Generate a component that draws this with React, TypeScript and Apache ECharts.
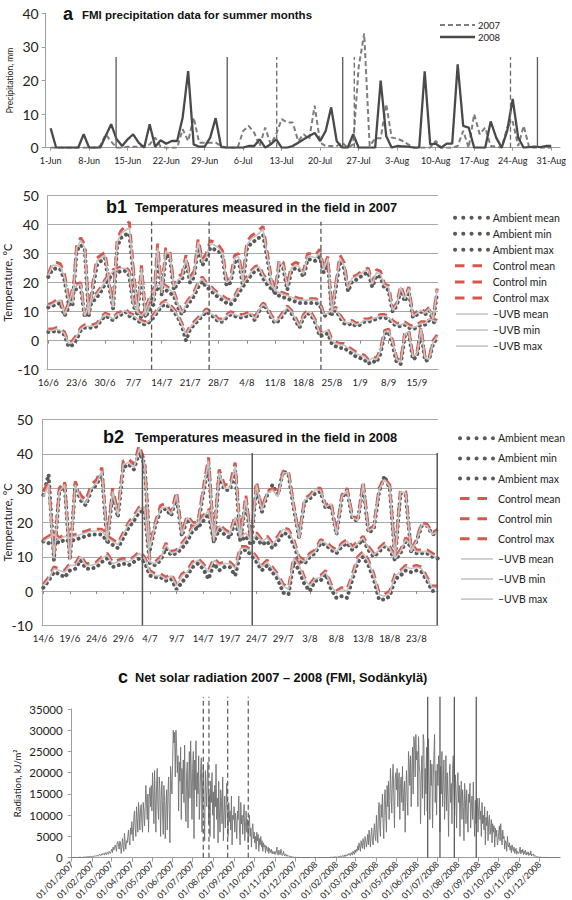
import React, { useEffect, useRef } from 'react';
import * as echarts from 'echarts';

const FONT = 'Lato, "Open Sans", sans-serif';
const TFONT = '"Liberation Sans", Arial, sans-serif';

// ---------- Panel a: precipitation (1 Jun .. 31 Aug, daily) ----------
const precipLabels = ['1-Jun', '8-Jun', '15-Jun', '22-Jun', '29-Jun', '6-Jul', '13-Jul', '20-Jul', '27-Jul', '3-Aug', '10-Aug', '17-Aug', '24-Aug', '31-Aug'];
const precip2007 = [
  0, 0, 0, 0, 0, 0, 0, 0, 0, 0.5,
  4, 1.8, 0, 0, 0.3, 0.3, 0.3, 0.5, 1, 3,
  0.3, 0, 0, 0, 5.5, 2, 9, 1.5, 1.5, 1.5,
  1.5, 0.5, 0, 0, 0, 5, 6.5, 4.5, 0.5, 6,
  1, 4, 8.5, 7.5, 7.5, 2, 4, 2.5, 12.5, 1.5,
  0.5, 0.5, 0.5, 1.5, 0, 1, 24, 34, 0.5, 2.8,
  2.8, 13, 3, 2.7, 2, 1, 0, 0, 0, 0,
  2, 0, 0, 0, 0.5, 5, 0, 10, 4, 6,
  0.5, 0.3, 0, 6, 7.8, 0.5, 6.5, 0, 0, 0,
  0, 0,
];
const precip2008 = [
  5.8, 0, 0, 0, 0, 0, 4, 0, 0, 0,
  3.5, 7, 2.5, 0.5, 2.5, 4, 1.5, 0, 7, 0.3,
  2.2, 1.2, 2, 2, 9, 22.8, 1, 0.3, 0.3, 3,
  8.8, 0.2, 0, 0, 0, 0, 0.5, 0.5, 2.5, 0,
  1, 2.5, 0, 0, 0.5, 1.5, 2.5, 3.5, 4.4, 2,
  5, 12, 2, 0, 0, 4, 0, 0, 0, 0,
  20, 3.5, 0, 0.5, 0.4, 0.3, 0, 0, 22.7, 1,
  1.2, 0, 1.2, 1.2, 24.8, 6.5, 6, 0, 0, 0,
  7.8, 3, 0, 5, 14.5, 3, 0, 0.2, 0.3, 0.2,
  0.5, 0.5,
];
// sampling dates (day index from 1 Jun)
const sampleDays2007A = [41.1, 55.2, 83.6];
const sampleDays2008A = [11.9, 32.1, 53.1, 88.5];
const sampleTopA = 27;

// ---------- Panel b1: temperatures 2007 (16/6 .. 20/9) ----------
const b1Labels = ['16/6', '23/6', '30/6', '7/7', '14/7', '21/7', '28/7', '4/8', '11/8', '18/8', '25/8', '1/9', '8/9', '15/9'];
const ambMax07 = [22, 24.5, 25, 24.5, 21, 13, 12.5, 31, 33, 31.5, 8.5, 18, 26, 27.5, 28.5, 19, 11, 32.5, 35.5, 36.5, 37, 23, 9, 24, 8, 11, 12.5, 30.5, 15.5, 29.5, 29, 17.5, 20, 21, 27.5, 20, 22, 33, 26, 28, 32, 31.5, 31, 29, 19, 20, 27, 28, 19, 31.5, 33.5, 34.5, 35.5, 36.5, 29, 20, 16, 26, 25, 17.5, 24, 25, 24.5, 22, 28, 28, 27.5, 29, 23.5, 27.5, 9, 18.5, 27.5, 25, 17, 20.5, 21, 22, 23, 23.5, 18.5, 22.5, 22, 18, 17.5, 10, 12, 17.5, 13.5, 17, 8, 9, 10, 9, 10.5, 7, 16.5];
const ambMean07 = [11.5, 12, 12.5, 13, 8.5, 11.5, 16.5, 18, 18.5, 8, 11.5, 13.5, 15, 17, 19.5, 21.5, 23, 23.5, 24, 24, 22.5, 12, 9.5, 8, 10, 13.5, 16.5, 18, 18.5, 17.5, 16.5, 15.5, 11.5, 9, 11.5, 13.5, 15.5, 18.5, 20.5, 18.5, 17.5, 16, 15, 14, 13, 12.5, 14, 16.5, 18.5, 20.5, 22.5, 24, 24.5, 21.5, 19.5, 18, 16.5, 15.5, 15, 14.5, 14, 13.5, 13, 13, 13, 13, 13, 12.5, 8.5, 9, 10, 10.5, 8, 6, 5.5, 6, 5, 5.5, 6.5, 6.5, 7, 7.5, 8, 8, 7.5, 6, 5, 5, 5.5, 4.5, 4, 4.5, 5.5, 5.5, 7, 6.5, 6];
const ambMin07 = [3, 3, 3.5, 3, 2, -2, -1.5, 0.5, 3.5, 4.5, 4.5, 4.5, 5, 7, 8.5, 8, 7, 8.5, 9, 10, 8.5, 8, 7, 6, 5.5, 6.5, 8, 10, 12, 12.5, 11.5, 10, 8, 5, 0, 4, 5.5, 7, 8.5, 10, 9, 8, 6.5, 6.5, 8, 9, 8.5, 8, 8, 8.5, 9, 7, 10, 12.5, 11, 8, 6, 7, 9, 11, 9.5, 7, 4.5, 8, 9.5, 8.5, 6, 1.5, 2, 2.5, -1, -2, -2.5, -2.5, -3.5, -4.5, -5.5, -6, -6.5, -8, -7, -7.5, -4.5, 2.5, 3, -1.5, -7.5, -8, 1.5, 2.5, -6.5, -5.5, 3.5, -7, -6.5, -1, 1];
const ctlMax07 = [23, 26.5, 27, 26.5, 23, 15, 14, 33, 35.5, 33, 9.5, 20, 28.5, 29.5, 30.5, 21, 12, 35, 38, 39.5, 41, 25, 10, 26, 9, 12.5, 14, 33.5, 17, 32, 31, 19, 22, 23, 29.5, 22, 24, 35, 28, 30, 34.5, 34, 33, 31, 21, 22, 29.5, 30, 21, 34, 36, 37, 38, 39.5, 31, 22, 17.5, 28, 27, 19, 26, 27, 26.5, 24, 30, 30, 29.5, 31.5, 25, 29, 10, 20, 29.5, 27, 18.5, 22, 22.5, 23.5, 24.5, 25, 20, 24.5, 24, 19.5, 19, 11, 13, 19, 15, 18.5, 9, 10, 11, 10, 11.5, 8, 18];
const ctlMean07 = [12.5, 13, 14, 14.5, 9.5, 13, 18, 19.5, 20, 9, 13, 15, 16.5, 18.5, 21, 23, 24.5, 25, 25.5, 25.5, 24, 13, 10.5, 9, 11, 15, 18, 19.5, 20, 19, 18, 17, 13, 10, 13, 15, 17, 20, 22, 20, 19, 17.5, 16.5, 15.5, 14.5, 14, 15.5, 18, 20, 22, 24, 25.5, 26, 23, 21, 19.5, 18, 17, 16.5, 16, 15.5, 15, 14.5, 14.5, 14.5, 14.5, 14.5, 13.5, 9.5, 10, 11, 11.5, 9, 7, 6.5, 7, 6, 6.5, 7.5, 7.5, 8, 8.5, 9, 9, 8.5, 7, 6, 6, 6.5, 5.5, 5, 5.5, 6.5, 6.5, 8, 7.5, 7];
const ctlMin07 = [4, 4, 4.5, 4, 3, -0.5, 0, 2, 4.5, 5.5, 5.5, 5.5, 6, 8, 9.5, 9, 8, 9.5, 10, 11, 9.5, 9, 8, 7, 6.5, 7.5, 9, 11, 13, 14, 12.5, 11, 9, 6, 2.5, 5, 6.5, 8, 9.5, 11, 10, 9, 7.5, 7.5, 9, 10, 9.5, 9, 9, 9.5, 10, 8, 11, 13, 12, 9, 7, 8, 10, 12, 10.5, 8, 5.5, 9, 10.5, 9.5, 7, 3, 3.5, 4, 0.5, -0.5, -1, -1, -2, -3, -4, -4.5, -5, -6.5, -5.5, -6, -3, 3.5, 4, 0, -6, -7, 3, 3.5, -5, -4, 4.5, -5.5, -6, 0, 2];
const uvbMax07 = [22.5, 26, 26, 25.5, 22, 14, 13, 32, 34.5, 32, 9, 19, 27.5, 28.5, 29.5, 20, 11.5, 34, 37, 38, 39, 24, 9.5, 25, 8.5, 12, 13.5, 32, 16.5, 31, 30, 18.5, 21, 22, 28.5, 21, 23, 34, 27, 29, 33.5, 33, 32, 30, 20, 21, 28.5, 29, 20, 33, 35, 36, 37, 38.5, 30, 21, 17, 27, 26, 18.5, 25, 26, 25.5, 23, 29, 29, 28.5, 30.5, 24.5, 28.5, 9.5, 19.5, 28.5, 26, 18, 21.5, 22, 23, 24, 24.5, 19.5, 23.5, 23, 19, 18.5, 10.5, 12.5, 18.5, 14.5, 18, 8.5, 9.5, 10.5, 9.5, 11, 7.5, 17.5];
const uvbMean07 = [12, 12.5, 13.5, 14, 9, 12.5, 17.5, 19, 19.5, 8.5, 12.5, 14.5, 16, 18, 20.5, 22.5, 24, 24.5, 25, 25, 23.5, 12.5, 10, 8.5, 10.5, 14.5, 17.5, 19, 19.5, 18.5, 17.5, 16.5, 12.5, 9.5, 12.5, 14.5, 16.5, 19.5, 21.5, 19.5, 18.5, 17, 16, 15, 14, 13.5, 15, 17.5, 19.5, 21.5, 23.5, 25, 25.5, 22.5, 20.5, 19, 17.5, 16.5, 16, 15.5, 15, 14.5, 14, 14, 14, 14, 14, 13, 9, 9.5, 10.5, 11, 8.5, 6.5, 6, 6.5, 5.5, 6, 7, 7, 7.5, 8, 8.5, 8.5, 8, 6.5, 5.5, 5.5, 6, 5, 4.5, 5, 6, 6, 7.5, 7, 6.5];
const uvbMin07 = [3.5, 3.5, 4, 3.5, 2.5, -1, -0.5, 1.5, 4, 5, 5, 5, 5.5, 7.5, 9, 8.5, 7.5, 9, 9.5, 10.5, 9, 8.5, 7.5, 6.5, 6, 7, 8.5, 10.5, 12.5, 13.5, 12, 10.5, 8.5, 5.5, 2, 4.5, 6, 7.5, 9, 10.5, 9.5, 8.5, 7, 7, 8.5, 9.5, 9, 8.5, 8.5, 9, 9.5, 7.5, 10.5, 12.5, 11.5, 8.5, 6.5, 7.5, 9.5, 11.5, 10, 7.5, 5, 8.5, 10, 9, 6.5, 2.5, 3, 3.5, 0, -1, -1.5, -1.5, -2.5, -3.5, -4.5, -5, -5.5, -7, -6, -6.5, -3.5, 3, 3.5, -0.5, -6.5, -7.5, 2.5, 3, -5.5, -4.5, 4, -6, -6.5, -0.5, 1.5];
const sampleDaysB1 = [25.5, 39.7, 67.3];
const sampleTopB1 = 41;

// ---------- Panel b2: temperatures 2008 (14/6 .. 27/8) ----------
const b2Labels = ['14/6', '19/6', '24/6', '29/6', '4/7', '9/7', '14/7', '19/7', '24/7', '29/7', '3/8', '8/8', '13/8', '18/8', '23/8'];
const ambMax08 = [28, 34, 9, 29, 31, 9, 31, 26.5, 25, 29.5, 31, 34.5, 14, 28.5, 21.5, 36, 37, 35.5, 40.5, 37, 12, 19, 23.5, 24, 22, 27.5, 16, 21, 19, 19, 28.5, 37, 14, 34, 29.5, 29.5, 35, 15, 26.5, 14, 30.5, 23, 28, 31, 28, 35, 34, 24, 15.5, 26, 27, 28.5, 29, 24, 25, 16.5, 27, 29.5, 21, 20.5, 31, 17, 18, 29, 33.5, 30, 9.5, 28.5, 28, 11.5, 14.5, 19, 19, 16.5, 17];
const ambMean08 = [14.5, 14, 15, 14, 15, 14.5, 15, 15.5, 16, 16.5, 16.5, 16.5, 14.5, 13.5, 12.5, 15.5, 18.5, 20.5, 23, 23.5, 8, 7.5, 9, 12.5, 10.5, 11, 12.5, 14.5, 17.5, 18.5, 20.5, 22.5, 14.5, 18, 16.5, 15.5, 20.5, 14.5, 16, 13.5, 15.5, 13.5, 14.5, 12.5, 14.5, 17, 16.5, 13.5, 9, 8, 10, 11, 14, 13.5, 12, 11, 13, 14, 12, 13.5, 15, 12, 10, 11.5, 13, 12, 9, 11, 14.5, 13, 11, 11, 11, 10, 9.5];
const ambMin08 = [1, 3, 5.5, 5, 4, 6, 6.5, 9, 6.5, 6.5, 7, 8.5, 9.5, 7, 7.5, 8, 7.5, 8.5, 9.5, 8.5, 4.5, 4, 4, 3, 3.5, 0.5, 2.5, 4.5, 7, 8, 6.5, 3.5, 8, 6, 7, 7, 4.5, 11.5, 12, 10.5, 8.5, 6, 7.5, 5.5, 3.5, -0.5, -1, 8.5, 6, 2, 0, 3, 3, 5, 0.5, -2, -1.5, -2, 3.5, 8.5, 10, 7.5, 3.5, -2.5, -2.5, -1.5, 3.5, 4.5, 6, 5.5, 6, 5.5, 3, 0, 0];
const ctlMax08 = [29, 32, 10, 30, 32, 9.5, 32, 28, 26.5, 31, 32.5, 36, 15, 30, 23, 38, 38.5, 37, 42.5, 38, 13, 20, 25, 25.5, 23, 29, 17, 22, 20, 20, 30, 39, 15, 35.5, 31, 31, 37.5, 16, 28, 15, 32, 24, 29, 30, 28, 35, 35, 25, 16, 27, 28, 30, 30, 25, 26, 17, 28, 30, 22, 21, 32, 18, 19, 30, 33, 31, 10, 29.5, 29, 12, 15, 20, 19.5, 17, 18];
const ctlMean08 = [15, 16, 17, 15.5, 16.5, 16, 16.5, 17, 17.5, 18, 18, 18, 16, 15, 14, 17, 20, 22, 24.5, 25, 9, 8.5, 10, 14, 11.5, 12, 14, 16, 19, 20, 22, 24, 16, 19.5, 18, 17, 22, 16, 17.5, 15, 17, 15, 16, 14, 16, 18.5, 18, 15, 10, 9, 11, 12, 15, 14.5, 13, 12, 14, 15, 13, 14.5, 16, 13, 11, 12.5, 14, 13, 10, 12, 15.5, 14, 12, 12, 12, 11, 10];
const ctlMin08 = [2, 4, 7, 6.5, 6, 8, 8, 10.5, 8, 8, 8.5, 10, 11, 8.5, 9, 9.5, 9, 10, 11.5, 10, 6, 5, 5, 4, 5, 2, 5, 6, 8.5, 9.5, 8, 6, 9.5, 8, 8.5, 8.5, 7, 13, 13, 12, 10, 7.5, 9, 7, 5, 2, 1, 10, 8, 4, 2, 4, 4.5, 6, 2, 0, 1, 0.5, 5, 10, 11.5, 9, 5, -0.5, -1, 0, 5, 6, 7.5, 7, 7.5, 7, 4, 1.5, 1.5];
const uvbMax08 = [27.5, 31, 9.5, 29, 31, 9, 31, 27, 25.5, 30, 31.5, 35, 14.5, 29, 22, 37, 37.5, 36, 41.5, 37, 12.5, 19.5, 24, 24.5, 22.5, 28, 16.5, 21.5, 19.5, 19.5, 29, 38, 14.5, 34.5, 30, 30, 36.5, 15.5, 27, 14.5, 31, 23.5, 28.5, 29.5, 27.5, 34.5, 34.5, 24.5, 15.5, 26.5, 27.5, 29.5, 29.5, 24.5, 25.5, 16.5, 27.5, 29.5, 21.5, 20.5, 31.5, 17.5, 18.5, 29.5, 32.5, 30.5, 9.5, 29, 28.5, 11.5, 14.5, 19.5, 19, 16.5, 17.5];
const uvbMean08 = [14.5, 15.5, 16.5, 15, 16, 15.5, 16, 16.5, 17, 17.5, 17.5, 17.5, 15.5, 14.5, 13.5, 16.5, 19.5, 21.5, 24, 24.5, 8.5, 8, 9.5, 13.5, 11, 11.5, 13.5, 15.5, 18.5, 19.5, 21.5, 23.5, 15.5, 19, 17.5, 16.5, 21.5, 15.5, 17, 14.5, 16.5, 14.5, 15.5, 13.5, 15.5, 18, 17.5, 14.5, 9.5, 8.5, 10.5, 11.5, 14.5, 14, 12.5, 11.5, 13.5, 14.5, 12.5, 14, 15.5, 12.5, 10.5, 12, 13.5, 12.5, 9.5, 11.5, 15, 13.5, 11.5, 11.5, 11.5, 10.5, 9.5];
const uvbMin08 = [1.5, 3.5, 6.5, 6, 5.5, 7.5, 7.5, 10, 7.5, 7.5, 8, 9.5, 10.5, 8, 8.5, 9, 8.5, 9.5, 11, 9.5, 5.5, 4.5, 4.5, 3.5, 4.5, 1.5, 4.5, 5.5, 8, 9, 7.5, 5.5, 9, 7.5, 8, 8, 6.5, 12.5, 12.5, 11.5, 9.5, 7, 8.5, 6.5, 4.5, 1.5, 0.5, 9.5, 7.5, 3.5, 1.5, 3.5, 4, 5.5, 1.5, -0.5, 0.5, 0, 4.5, 9.5, 11, 8.5, 4.5, -1, -1.5, -0.5, 4.5, 5.5, 7, 6.5, 7, 6.5, 3.5, 1, 1];
const sampleDaysB2 = [18.6, 39.2, 73.9];
const sampleTopB2 = 40.3;

// ---------- Panel c: net solar radiation, daily, by month ----------
const monthDays2007 = [31, 28, 31, 30, 31, 30, 31, 31, 30, 31, 30, 31];
const monthDays2008 = [31, 29, 31, 30, 31, 30, 31, 31, 30, 31, 30, 31];
const radLabels = ['01/01/2007', '01/02/2007', '01/03/2007', '01/04/2007', '01/05/2007', '01/06/2007', '01/07/2007', '01/08/2007', '01/09/2007', '01/10/2007', '01/11/2007', '01/12/2007', '01/01/2008', '01/02/2008', '01/03/2008', '01/04/2008', '01/05/2008', '01/06/2008', '01/07/2008', '01/08/2008', '01/09/2008', '01/10/2008', '01/11/2008', '01/12/2008'];
const rad2007 = [
  [0, 0, 50, 0, 100, 50, 0, 0, 80, 100, 50, 0, 120, 150, 100, 60, 0, 80, 150, 200, 100, 120, 180, 150, 200, 250, 180, 220, 300, 250, 200],
  [300, 350, 250, 400, 500, 300, 450, 600, 500, 350, 700, 800, 600, 500, 900, 700, 1000, 800, 600, 1200, 900, 700, 1300, 1100, 800, 1500, 1200, 1000],
  [1500, 2000, 1200, 2500, 1800, 2200, 3000, 2500, 1500, 3500, 3800, 3000, 2000, 3900, 3500, 1000, 2500, 4500, 2800, 1500, 5800, 3500, 2000, 4000, 3500, 5000, 6500, 4000, 3000, 7000, 5500],
  [8500, 6000, 4000, 9500, 11000, 7000, 5000, 12000, 9000, 6000, 13000, 10500, 6500, 11500, 12500, 8000, 6000, 13000, 11000, 7500, 12000, 17000, 13000, 9000, 15000, 6000, 14000, 16500, 12000, 17000],
  [11000, 20000, 15000, 8000, 20500, 14000, 6000, 17000, 21000, 12000, 9000, 19000, 16000, 5000, 14000, 18000, 10500, 5500, 17000, 13500, 4500, 12000, 16000, 6500, 15000, 19000, 11000, 3500, 21500, 18000, 15000],
  [22000, 30000, 27000, 29500, 19000, 30000, 26000, 20000, 24000, 11000, 22500, 18000, 26000, 9000, 21000, 15000, 23000, 13000, 26500, 12000, 8500, 20000, 22500, 7000, 17000, 25000, 14000, 27500, 19000, 9000],
  [21000, 25000, 4500, 23000, 16000, 27500, 12000, 20000, 15000, 24000, 9000, 14500, 21000, 23500, 6000, 18000, 22000, 10000, 4000, 20500, 16000, 12000, 19500, 22500, 8000, 15000, 5000, 18000, 13000, 20000, 10000],
  [15500, 4500, 17000, 12000, 22000, 9000, 14000, 3500, 18000, 11000, 6000, 16000, 13500, 8000, 19000, 4000, 10000, 14500, 7000, 12500, 17500, 9500, 5000, 13000, 8500, 11000, 6500, 14500, 3000, 10000, 9000],
  [12000, 6000, 10500, 8500, 4500, 11000, 9000, 14500, 7000, 3000, 13000, 8000, 10000, 5500, 9500, 12500, 4000, 7500, 11000, 6000, 9000, 3500, 8000, 10000, 5000, 7000, 2500, 6500, 8000, 4500],
  [6000, 3500, 5000, 2000, 6000, 4000, 5500, 1500, 4500, 3000, 5000, 2500, 4000, 1500, 3500, 2500, 3000, 1200, 2800, 2000, 1500, 2500, 1000, 2200, 1800, 1200, 2000, 900, 1500, 1200, 800],
  [1500, 800, 1200, 2500, 1000, 600, 1800, 900, 700, 2000, 1200, 500, 800, 1500, 600, 400, 900, 700, 300, 600, 500, 300, 400, 200, 300, 250, 150, 200, 100, 150],
  [100, 80, 50, 100, 60, 40, 80, 50, 30, 60, 40, 20, 50, 30, 0, 40, 20, 0, 30, 10, 0, 20, 0, 10, 0, 0, 20, 0, 10, 0, 0],
];
const rad2008 = [
  [0, 0, 10, 0, 0, 20, 0, 0, 10, 0, 0, 30, 0, 20, 10, 0, 40, 20, 0, 50, 30, 60, 20, 80, 50, 100, 60, 120, 80, 150, 100],
  [150, 200, 100, 250, 300, 150, 400, 350, 200, 500, 450, 300, 600, 250, 700, 500, 400, 800, 600, 1000, 700, 500, 1200, 900, 600, 1500, 1000, 800, 1800],
  [1200, 2000, 1500, 2800, 1800, 3500, 2500, 1500, 4000, 3000, 2200, 4500, 3500, 2000, 5000, 4200, 2500, 3800, 5500, 3000, 6500, 4500, 2500, 5500, 7000, 4000, 3000, 6000, 8000, 5000, 4000],
  [10000, 6000, 3500, 11000, 13000, 7000, 5000, 12500, 9500, 15000, 8000, 4500, 14000, 16000, 10000, 6000, 17000, 12000, 18000, 9000, 13500, 21000, 15000, 10500, 19000, 22000, 14000, 7000, 18500, 20000],
  [16000, 21000, 12000, 18000, 20000, 9000, 17500, 19000, 13000, 21500, 11000, 15000, 18000, 6000, 16000, 20500, 14000, 10000, 25000, 22000, 17000, 24000, 12000, 20000, 26000, 15000, 28500, 27000, 19000, 29000, 23000],
  [25000, 12000, 28500, 22000, 20000, 8000, 18000, 24000, 14000, 29000, 27500, 10000, 21000, 15000, 26000, 11000, 19000, 28000, 16000, 9000, 23000, 17000, 22000, 7000, 18000, 24000, 29000, 13000, 20500, 10000],
  [22000, 17000, 24000, 19000, 6000, 21500, 15000, 25000, 12000, 18000, 23000, 9000, 16000, 24000, 11000, 20000, 14000, 5000, 19000, 22000, 13000, 17500, 8000, 21000, 24000, 16000, 10000, 19500, 15000, 7000, 18000],
  [20000, 13000, 17000, 5000, 15000, 18000, 9000, 16000, 12000, 4000, 17500, 14000, 8000, 16000, 11000, 6000, 15000, 13000, 17500, 7000, 12000, 14500, 9000, 17800, 10000, 5000, 13500, 8000, 11000, 14000, 6000],
  [12000, 14000, 9000, 11000, 5000, 13000, 8000, 10000, 6500, 12000, 3000, 9500, 7500, 11000, 4000, 8500, 10000, 5500, 7000, 9000, 3500, 8000, 6000, 7500, 2500, 7000, 5000, 6500, 3000, 4000],
  [6000, 7500, 4000, 8000, 5000, 3000, 6500, 4500, 5000, 2000, 4000, 3500, 1500, 5000, 3000, 2500, 3500, 1800, 2800, 1200, 3000, 2000, 1500, 2500, 1000, 1800, 2200, 800, 1500, 1300, 1000],
  [1500, 2500, 900, 1800, 1200, 2000, 700, 1500, 1000, 1800, 600, 1200, 800, 1400, 500, 1000, 700, 1600, 400, 800, 600, 900, 300, 500, 400, 300, 200, 250, 150, 100],
  [120, 80, 100, 60, 50, 80, 40, 30, 60, 20, 40, 10, 30, 0, 20, 10, 0, 20, 0, 10, 0, 0, 10, 0, 0, 0, 0, 0, 0, 0, 0],
];
const sampleDays2007C = [196.9, 205.4, 233.4, 264.2];
const sampleDays2008C = [532.7, 551.1, 572.6, 605.4];
const sampleTopC = 37900;

// ---------- styles ----------
const AXIS_GRAY = '#9d9d9d';
const GRID_GRAY = '#a8a8a8';
const RED = '#d6584c';
const dotLS = { color: '#5a5a5a', width: 4, type: [0.1, 5.5], cap: 'round' };
const redLS = { color: RED, width: 3, type: [9, 6] };
const uvbLS = { color: '#c4c4c4', width: 1.6, type: 'solid' };

const toXY = (arr: number[]) => arr.map((v, i) => [i, v]);

function line(xi: number, yi: number, data: any[], ls: any, z = 2) {
  return { type: 'line', xAxisIndex: xi, yAxisIndex: yi, data, symbol: 'none', lineStyle: ls, silent: true, z, animation: false };
}
function vline(xi: number, yi: number, day: number, bottom: number, top: number, ls: any) {
  return { type: 'line', xAxisIndex: xi, yAxisIndex: yi, data: [[day, bottom], [day, top]], symbol: 'none', lineStyle: ls, silent: true, clip: false, z: 3 };
}

function tempSeries(xi: number, yi: number, d: any) {
  return [
    line(xi, yi, toXY(d.aMean), dotLS), line(xi, yi, toXY(d.aMin), dotLS), line(xi, yi, toXY(d.aMax), dotLS),
    line(xi, yi, toXY(d.cMean), redLS), line(xi, yi, toXY(d.cMin), redLS), line(xi, yi, toXY(d.cMax), redLS),
    line(xi, yi, toXY(d.uMean), uvbLS), line(xi, yi, toXY(d.uMin), uvbLS), line(xi, yi, toXY(d.uMax), uvbLS),
  ];
}

const legendNames = ['Ambient mean', 'Ambient min', 'Ambient max', 'Control mean', 'Control min', 'Control max', '\u2013UVB mean', '\u2013UVB min', '\u2013UVB max'];

function tempLegend(x0: number, y0: number, step: number, textX: number) {
  const els: any[] = [];
  legendNames.forEach((name, i) => {
    const y = y0 + step * i;
    let st: any;
    if (i < 3) st = { stroke: '#5a5a5a', lineWidth: 4, lineDash: [0.1, 8.15], lineCap: 'round' };
    else if (i < 6) st = { stroke: RED, lineWidth: 3, lineDash: [9.5, 8] };
    else st = { stroke: '#c4c4c4', lineWidth: 1.6 };
    const x2 = i < 3 ? x0 + 33 : i < 6 ? x0 + 28 : x0 + 33;
    els.push({ type: 'line', shape: { x1: x0 + (i >= 6 ? 1 : 0), y1: y, x2, y2: y }, style: st, silent: true });
    els.push({ type: 'text', x: textX, y, style: { text: name, font: `10.5px ${FONT}`, fill: '#222', verticalAlign: 'middle' }, silent: true });
  });
  return els;
}

function titleEls(letter: string, lx: number, text: string, tx: number, y: number, size: number) {
  return [
    { type: 'text', x: lx, y, style: { text: letter, font: `bold 18px ${TFONT}`, fill: '#111', verticalAlign: 'middle' }, silent: true },
    { type: 'text', x: tx, y: y + 0.5, style: { text, font: `bold ${size}px ${TFONT}`, fill: '#111', verticalAlign: 'middle' }, silent: true },
  ];
}

function buildOption() {
  const ticksA = precipLabels.map((_, i) => i * 7);
  const ticksB1 = b1Labels.map((_, i) => i * 7);
  const ticksB2 = b2Labels.map((_, i) => i * 5);

  const monthStarts: number[] = [];
  let acc = 0;
  [...monthDays2007, ...monthDays2008].forEach((n) => { monthStarts.push(acc); acc += n; });
  const radMonths = [...rad2007, ...rad2008];
  const radData: number[][] = [];
  radMonths.forEach((m, mi) => m.forEach((v, i) => radData.push([monthStarts[mi] + i, v])));
  const radTicks = monthStarts.slice(0, radLabels.length);
  const radLabelAt: Record<number, string> = {};
  radTicks.forEach((d, i) => { radLabelAt[d] = radLabels[i]; });

  const lbl = (size: number, extra: any = {}) => ({ fontFamily: FONT, fontSize: size, color: '#222', ...extra });
  const axLine = (color = AXIS_GRAY) => ({ show: true, onZero: false, lineStyle: { color, width: 1 } });

  const grid = [
    { left: 45.7, top: 13.3, width: 514.3, height: 134.4, outerBoundsMode: 'none' },
    { left: 47, top: 195.7, width: 391, height: 174, outerBoundsMode: 'none' },
    { left: 42, top: 419.7, width: 396, height: 205.6, outerBoundsMode: 'none' },
    { left: 71.7, top: 709, width: 488.5, height: 148.7, outerBoundsMode: 'none' },
  ];

  const xAxis = [
    {
      gridIndex: 0, type: 'value', min: -0.9, max: 92.6, axisLine: axLine(),
      axisTick: { show: true, customValues: ticksA, length: 3, lineStyle: { color: AXIS_GRAY } },
      axisLabel: { ...lbl(9), margin: 8, customValues: ticksA, formatter: (v: number) => precipLabels[Math.round(v / 7)] ?? '' },
      splitLine: { show: false },
    },
    {
      gridIndex: 1, type: 'value', min: -0.32, max: 96.2, axisLine: axLine(GRID_GRAY),
      axisTick: { show: false },
      axisLabel: { ...lbl(9.5), margin: 8, customValues: ticksB1, formatter: (v: number) => b1Labels[Math.round(v / 7)] ?? '' },
      splitLine: { show: false },
    },
    {
      gridIndex: 1, type: 'value', min: -0.32, max: 96.2, position: 'bottom',
      axisLine: { show: true, onZero: true, lineStyle: { color: GRID_GRAY } },
      axisTick: { show: true, customValues: ticksB1, length: 3, lineStyle: { color: '#888' } },
      axisLabel: { show: false }, splitLine: { show: false },
    },
    {
      gridIndex: 2, type: 'value', min: -0.24, max: 74.05, axisLine: axLine(GRID_GRAY),
      axisTick: { show: false },
      axisLabel: { ...lbl(9.5), margin: 8, customValues: ticksB2, formatter: (v: number) => b2Labels[Math.round(v / 5)] ?? '' },
      splitLine: { show: false },
    },
    {
      gridIndex: 2, type: 'value', min: -0.24, max: 74.05, position: 'bottom',
      axisLine: { show: true, onZero: true, lineStyle: { color: GRID_GRAY } },
      axisTick: { show: true, customValues: ticksB2, length: 3, lineStyle: { color: '#888' } },
      axisLabel: { show: false }, splitLine: { show: false },
    },
    {
      gridIndex: 3, type: 'value', min: 0, max: 731, axisLine: axLine(),
      axisTick: { show: true, customValues: radTicks, length: 4, lineStyle: { color: AXIS_GRAY } },
      axisLabel: { ...lbl(8.8), margin: 5, rotate: 45, customValues: radTicks, formatter: (v: number) => radLabelAt[Math.round(v)] ?? '' },
      splitLine: { show: false },
    },
  ];

  const yName = (size: number) => ({ fontFamily: FONT, fontSize: size, color: '#222' });
  const yAxis = [
    {
      gridIndex: 0, type: 'value', min: 0, max: 40, interval: 10, axisLine: axLine(),
      axisTick: { show: true, length: 4, lineStyle: { color: AXIS_GRAY } },
      axisLabel: { ...lbl(14), margin: 7 }, splitLine: { show: false },
      name: 'Precipitation, mm', nameLocation: 'middle', nameGap: 31, nameMoveOverlap: false, nameTextStyle: yName(8.5),
    },
    {
      gridIndex: 1, type: 'value', min: -10, max: 50, interval: 10, axisLine: axLine(GRID_GRAY),
      axisTick: { show: false },
      axisLabel: { ...lbl(14), margin: 8 }, splitLine: { show: true, lineStyle: { color: GRID_GRAY, width: 1 } },
      name: 'Temperature, \u00b0C', nameLocation: 'middle', nameGap: 34, nameMoveOverlap: false, nameTextStyle: yName(11),
    },
    {
      gridIndex: 2, type: 'value', min: -10, max: 50, interval: 10, axisLine: axLine(GRID_GRAY),
      axisTick: { show: false },
      axisLabel: { ...lbl(14), margin: 9 }, splitLine: { show: true, lineStyle: { color: GRID_GRAY, width: 1 } },
      name: 'Temperature, \u00b0C', nameLocation: 'middle', nameGap: 29, nameMoveOverlap: false, nameTextStyle: yName(11),
    },
    {
      gridIndex: 3, type: 'value', min: 0, max: 35000, interval: 5000, axisLine: axLine(),
      axisTick: { show: true, length: 4, lineStyle: { color: AXIS_GRAY } },
      axisLabel: { ...lbl(11.5), margin: 9, formatter: (v: number) => String(v) }, splitLine: { show: false },
      name: 'Radiation, kJ/m\u00b2', nameLocation: 'middle', nameGap: 49, nameMoveOverlap: false, nameTextStyle: yName(9.5),
    },
  ];

  const dashV = { color: '#6a6a6a', width: 1.3, type: [5, 3] };
  const solidV = { color: '#5a5a5a', width: 1.3, type: 'solid' };

  const series: any[] = [
    line(0, 0, toXY(precip2007), { color: '#7d7d7d', width: 2, type: [5, 3] }),
    line(0, 0, toXY(precip2008), { color: '#4a4a4a', width: 2.3, type: 'solid' }),
    ...sampleDays2007A.map((d) => vline(0, 0, d, 0, sampleTopA, dashV)),
    ...sampleDays2008A.map((d) => vline(0, 0, d, 0, sampleTopA, solidV)),

    ...tempSeries(1, 1, { aMean: ambMean07, aMin: ambMin07, aMax: ambMax07, cMean: ctlMean07, cMin: ctlMin07, cMax: ctlMax07, uMean: uvbMean07, uMin: uvbMin07, uMax: uvbMax07 }),
    ...sampleDaysB1.map((d) => vline(1, 1, d, -10, sampleTopB1, { color: '#555', width: 1.3, type: [5, 3] })),

    ...tempSeries(3, 2, { aMean: ambMean08, aMin: ambMin08, aMax: ambMax08, cMean: ctlMean08, cMin: ctlMin08, cMax: ctlMax08, uMean: uvbMean08, uMin: uvbMin08, uMax: uvbMax08 }),
    ...sampleDaysB2.map((d) => vline(3, 2, d, -10, sampleTopB2, { color: '#555', width: 1.5, type: 'solid' })),

    line(5, 3, radData, { color: '#727272', width: 0.9 }),
    ...sampleDays2007C.map((d) => vline(5, 3, d, 0, sampleTopC, { color: '#5a5a5a', width: 1.2, type: [5, 3] })),
    ...sampleDays2008C.map((d) => vline(5, 3, d, 0, sampleTopC, { color: '#5a5a5a', width: 1.3, type: 'solid' })),
  ];

  const graphic: any[] = [
    ...titleEls('a', 63, 'FMI precipitation data for summer months', 82, 14, 11.5),
    ...titleEls('b1', 106, 'Temperatures measured in the field in 2007', 135, 206.7, 12.8),
    ...titleEls('b2', 103, 'Temperatures measured in the field in 2008', 135, 436.7, 12.8),
    ...titleEls('c', 118, 'Net solar radiation 2007 \u2013 2008 (FMI, Sod\u00e4nkyl\u00e4)', 135, 677, 12.8),
    { type: 'line', shape: { x1: 440, y1: 25, x2: 475, y2: 25 }, style: { stroke: '#7d7d7d', lineWidth: 2, lineDash: [5, 3] }, silent: true },
    { type: 'text', x: 478, y: 25, style: { text: '2007', font: `9.5px ${FONT}`, fill: '#222', verticalAlign: 'middle' }, silent: true },
    { type: 'line', shape: { x1: 440, y1: 37, x2: 475, y2: 37 }, style: { stroke: '#4a4a4a', lineWidth: 2.3 }, silent: true },
    { type: 'text', x: 478, y: 37, style: { text: '2008', font: `9.5px ${FONT}`, fill: '#222', verticalAlign: 'middle' }, silent: true },
    ...tempLegend(455, 217.7, 16.05, 492.7),
    ...tempLegend(460, 438.3, 20.1, 498),
  ];

  return { animation: false, backgroundColor: '#ffffff', grid, xAxis, yAxis, series, graphic };
}

export default function App() {
  const ref = useRef<HTMLDivElement>(null);
  useEffect(() => {
    document.body.style.margin = '0';
    const chart = echarts.init(ref.current as HTMLDivElement, null, { renderer: 'svg' });
    chart.setOption(buildOption() as any);
    return () => chart.dispose();
  }, []);
  return <div ref={ref} style={{ width: 572, height: 900 }} />;
}
